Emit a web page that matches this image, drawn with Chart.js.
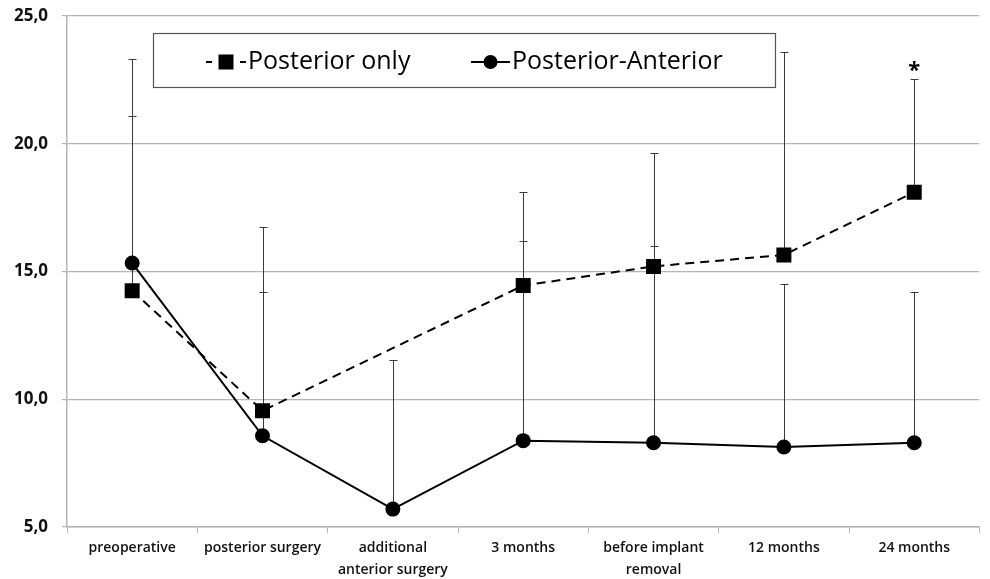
<!DOCTYPE html>
<html>
<head>
<meta charset="utf-8">
<script src="https://cdn.jsdelivr.net/npm/chart.js@4/dist/chart.umd.min.js"></script>
<style>
    html, body { margin: 0; padding: 0; background: #fff; }
    #wrap { width: 990px; height: 579px; }
</style>
</head>
<body>
<div id="wrap"><canvas id="chart" width="990" height="579"></canvas></div>
<script>
const categories = [
    "preoperative",
    "posterior surgery",
    ["additional", "anterior surgery"],
    "3 months",
    ["before implant", "removal"],
    "12 months",
    "24 months"
];

const posteriorOnly = [14.25, 9.55, null, 14.45, 15.2, 15.65, 18.1];
const posteriorAnterior = [15.33, 8.57, 5.7, 8.38, 8.3, 8.13, 8.3];

// upper end of the error bars
const posteriorOnlyTop = [23.3, 16.75, null, 18.1, 19.65, 23.6, 22.55];
const posteriorAnteriorTop = [21.1, 14.2, 11.55, 16.2, 16.0, 14.5, 14.2];

const yTicks = [5, 10, 15, 20, 25];
const starIndex = 6;

const canvas = document.querySelector("#chart");
const labelFont = "'Open Sans', sans-serif";

const errorBars = {
    id: "errorBars",
    beforeDatasetsDraw(chart) {
        const ctx = chart.ctx;
        const y = chart.scales.y;
        const tops = [posteriorOnlyTop, posteriorAnteriorTop];
        ctx.save();
        ctx.strokeStyle = "#3a3a3a";
        ctx.lineWidth = 1;
        chart.data.datasets.forEach((ds, d) => {
            const meta = chart.getDatasetMeta(d);
            meta.data.forEach((pt, i) => {
                if (ds.data[i] == null || tops[d][i] == null) return;
                const x = Math.round(pt.x) + 0.5;
                const yTop = Math.round(y.getPixelForValue(tops[d][i])) + 0.5;
                ctx.beginPath();
                ctx.moveTo(x, pt.y);
                ctx.lineTo(x, yTop);
                ctx.moveTo(x - 4, yTop);
                ctx.lineTo(x + 4, yTop);
                ctx.stroke();
            });
        });
        // significance star
        const pt = chart.getDatasetMeta(0).data[starIndex];
        ctx.fillStyle = "#000";
        ctx.font = "bold 22px " + labelFont;
        ctx.textAlign = "center";
        ctx.textBaseline = "alphabetic";
        ctx.fillText("*", pt.x, y.getPixelForValue(posteriorOnlyTop[starIndex]) - 2);
        ctx.restore();
    }
};

const boxLegend = {
    id: "boxLegend",
    afterDraw(chart) {
        const ctx = chart.ctx;
        ctx.save();
        ctx.fillStyle = "#fff";
        ctx.fillRect(153, 33, 622, 54);
        ctx.strokeStyle = "#555";
        ctx.lineWidth = 1.2;
        ctx.strokeRect(153.5, 33.5, 622, 54);

        const cy = 62;
        const items = [
            { x1: 206, x2: 246, dash: true, label: chart.data.datasets[0].label, tx: 248, shape: "rect" },
            { x1: 471, x2: 510, dash: false, label: chart.data.datasets[1].label, tx: 512, shape: "circle" }
        ];
        items.forEach(it => {
            ctx.strokeStyle = "#000";
            ctx.lineWidth = 2;
            ctx.beginPath();
            if (it.dash) {
                ctx.moveTo(it.x1, cy); ctx.lineTo(it.x1 + 6, cy);
                ctx.moveTo(it.x2 - 6, cy); ctx.lineTo(it.x2, cy);
            } else {
                ctx.moveTo(it.x1, cy); ctx.lineTo(it.x2, cy);
            }
            ctx.stroke();
            const mx = (it.x1 + it.x2) / 2;
            ctx.fillStyle = "#000";
            if (it.shape === "rect") {
                ctx.fillRect(mx - 7.5, cy - 7.5, 15, 15);
            } else {
                ctx.beginPath();
                ctx.arc(mx, cy, 7, 0, Math.PI * 2);
                ctx.fill();
            }
            ctx.font = "25px " + labelFont;
            ctx.textAlign = "left";
            ctx.textBaseline = "middle";
            ctx.fillText(it.label, it.tx, cy);
        });
        ctx.restore();
    }
};

new Chart(canvas, {
    type: "line",
    data: {
        labels: categories,
        datasets: [{
            label: "Posterior only",
            data: posteriorOnly,
            borderColor: "#000",
            backgroundColor: "#000",
            borderWidth: 2,
            borderDash: [9, 6],
            pointStyle: "rect",
            pointRadius: 10.6,
            pointBorderWidth: 0,
            spanGaps: true,
            tension: 0
        }, {
            label: "Posterior-Anterior",
            data: posteriorAnterior,
            borderColor: "#000",
            backgroundColor: "#000",
            borderWidth: 2,
            pointStyle: "circle",
            pointRadius: 7.5,
            pointBorderWidth: 0,
            tension: 0
        }]
    },
    options: {
        responsive: false,
        animation: false,
        layout: { padding: { top: 0, right: 3, left: 0, bottom: 0 } },
        plugins: {
            legend: { display: false },
            tooltip: { enabled: false }
        },
        scales: {
            x: {
                offset: true,
                grid: {
                    offset: true,
                    drawOnChartArea: false,
                    drawTicks: true,
                    tickLength: 6,
                    color: "#b5b5b5"
                },
                border: { color: "#b5b5b5", width: 1.5 },
                ticks: {
                    color: "#111",
                    font: { family: labelFont, size: 14, weight: "600", lineHeight: 1.55 },
                    maxRotation: 0,
                    autoSkip: false,
                    padding: 4
                },
                afterFit(scale) { scale.height = 52; }
            },
            y: {
                min: 5,
                max: 25,
                afterBuildTicks(scale) {
                    scale.ticks = yTicks.map(v => ({ value: v }));
                },
                grid: {
                    color: "#b5b5b5",
                    lineWidth: 1.2,
                    tickLength: 5
                },
                border: { color: "#b5b5b5", width: 1.5 },
                ticks: {
                    color: "#111",
                    font: { family: labelFont, size: 17, weight: "bold" },
                    padding: 14,
                    callback: v => v.toFixed(1).replace(".", ",")
                },
                afterFit(scale) {
                    scale.width = 67;
                    scale.paddingTop = 16;
                    scale.paddingBottom = 0;
                }
            }
        }
    },
    plugins: [errorBars, boxLegend]
});
</script>
</body>
</html>
